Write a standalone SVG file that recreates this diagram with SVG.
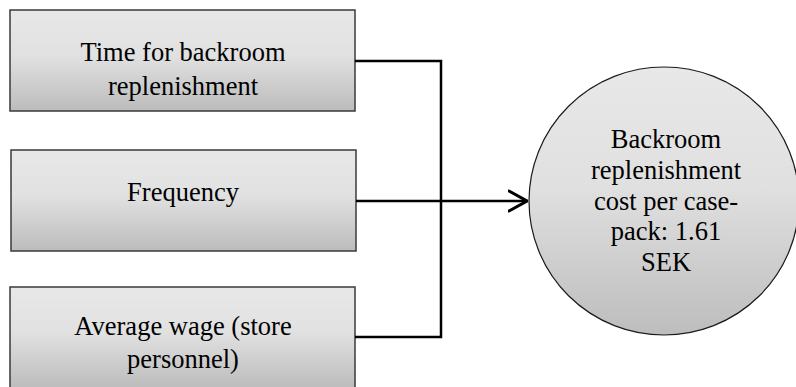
<svg xmlns="http://www.w3.org/2000/svg" width="796" height="387" viewBox="0 0 796 387">
  <defs>
    <linearGradient id="boxFill" x1="0" y1="0" x2="0" y2="1">
      <stop offset="0" stop-color="#e8e8e8"/>
      <stop offset="0.45" stop-color="#e1e1e1"/>
      <stop offset="1" stop-color="#bcbcbc"/>
    </linearGradient>
    <linearGradient id="circleFill" x1="0" y1="0" x2="0" y2="1">
      <stop offset="0" stop-color="#e8e8e8"/>
      <stop offset="0.45" stop-color="#e0e0e0"/>
      <stop offset="1" stop-color="#bdbdbd"/>
    </linearGradient>
    <marker id="chevron" viewBox="0 0 20 24" refX="19" refY="12" markerWidth="20" markerHeight="24" markerUnits="userSpaceOnUse" orient="auto">
      <path d="M1,2 L19,12 L1,22" fill="none" stroke="#000" stroke-width="3" stroke-linecap="round" stroke-linejoin="miter"/>
    </marker>
  </defs>
  <style>
    .box { fill: url(#boxFill); stroke: #3a3a3a; stroke-width: 1.5; }
    .result { fill: url(#circleFill); stroke: #1a1a1a; stroke-width: 1.2; }
    .label { font-size: 26.5px; fill: #000; text-anchor: middle; }
    .wire { fill: none; stroke: #000; stroke-width: 2.5; }
  </style>
  <rect width="796" height="387" fill="#fff"/>

  <g font-family="'Liberation Serif', 'DejaVu Serif', serif">
    <g id="node-time">
      <rect class="box" x="10" y="10" width="345" height="101"/>
      <text class="label" x="183" y="61">Time for backroom</text>
      <text class="label" x="183" y="95">replenishment</text>
    </g>

    <g id="node-frequency">
      <rect class="box" x="11" y="150" width="345" height="101"/>
      <text class="label" x="183" y="201">Frequency</text>
    </g>

    <g id="node-wage">
      <rect class="box" x="10" y="287" width="345" height="101"/>
      <text class="label" x="183" y="335">Average wage (store</text>
      <text class="label" x="183" y="368">personnel)</text>
    </g>

    <g id="node-cost">
      <ellipse class="result" cx="664" cy="201" rx="135" ry="134"/>
      <text class="label" x="666" y="148">Backroom</text>
      <text class="label" x="666" y="179">replenishment</text>
      <text class="label" x="666" y="210">cost per case-</text>
      <text class="label" x="666" y="240">pack: 1.61</text>
      <text class="label" x="666" y="271">SEK</text>
    </g>
  </g>

  <g id="connectors">
    <polyline class="wire" points="355,61 441,61 441,337 355,337"/>
    <line class="wire" x1="356" y1="201" x2="527" y2="201" marker-end="url(#chevron)"/>
  </g>
</svg>
